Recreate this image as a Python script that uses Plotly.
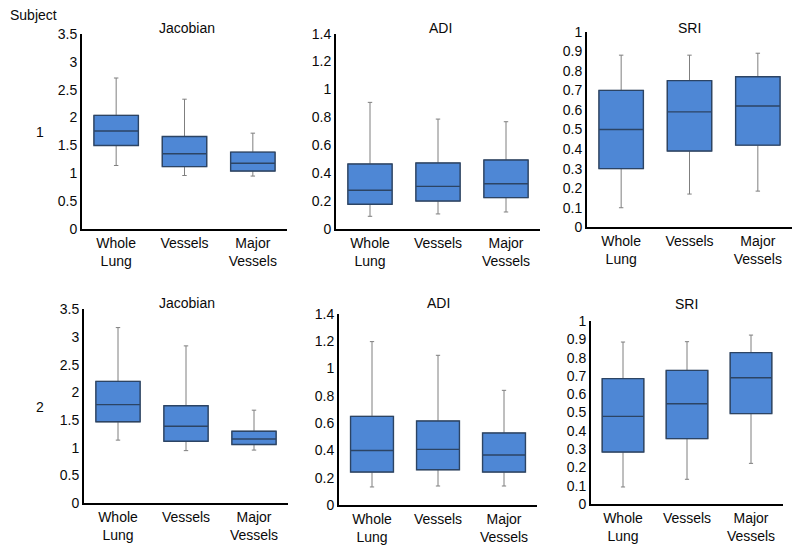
import plotly.graph_objects as go

categories = ["Whole<br>Lung", "Vessels", "Major<br>Vessels"]
subjects = ["1", "2"]
metrics = ["Jacobian", "ADI", "SRI"]

# Subject 1
jac1_low = [1.14, 0.96, 0.95]
jac1_q1 = [1.50, 1.12, 1.04]
jac1_med = [1.76, 1.35, 1.18]
jac1_q3 = [2.04, 1.66, 1.38]
jac1_high = [2.71, 2.33, 1.72]

adi1_low = [0.089, 0.106, 0.12]
adi1_q1 = [0.175, 0.199, 0.223]
adi1_med = [0.276, 0.304, 0.323]
adi1_q3 = [0.464, 0.472, 0.493]
adi1_high = [0.907, 0.787, 0.768]

sri1_low = [0.10, 0.17, 0.185]
sri1_q1 = [0.30, 0.39, 0.42]
sri1_med = [0.50, 0.59, 0.62]
sri1_q3 = [0.70, 0.75, 0.77]
sri1_high = [0.88, 0.88, 0.89]

# Subject 2
jac2_low = [1.14, 0.95, 0.96]
jac2_q1 = [1.47, 1.12, 1.06]
jac2_med = [1.78, 1.39, 1.16]
jac2_q3 = [2.20, 1.76, 1.30]
jac2_high = [3.17, 2.84, 1.68]

adi2_low = [0.134, 0.141, 0.141]
adi2_q1 = [0.243, 0.26, 0.243]
adi2_med = [0.40, 0.409, 0.368]
adi2_q3 = [0.65, 0.616, 0.528]
adi2_high = [1.196, 1.096, 0.84]

sri2_low = [0.093, 0.135, 0.222]
sri2_q1 = [0.284, 0.357, 0.494]
sri2_med = [0.479, 0.548, 0.69]
sri2_q3 = [0.685, 0.73, 0.827]
sri2_high = [0.885, 0.887, 0.923]

y_ranges = [[0, 3.5], [0, 1.4], [0, 1.0]]
y_dticks = [0.5, 0.2, 0.1]

panels = [
    (jac1_low, jac1_q1, jac1_med, jac1_q3, jac1_high),
    (adi1_low, adi1_q1, adi1_med, adi1_q3, adi1_high),
    (sri1_low, sri1_q1, sri1_med, sri1_q3, sri1_high),
    (jac2_low, jac2_q1, jac2_med, jac2_q3, jac2_high),
    (adi2_low, adi2_q1, adi2_med, adi2_q3, adi2_high),
    (sri2_low, sri2_q1, sri2_med, sri2_q3, sri2_high),
]

# pixel boxes of plot areas: (x0, x1, y0_top, y1_bottom)
W, H = 800, 553
pix = [
    (82, 287, 34, 229),
    (336, 540, 33.7, 228.7),
    (587, 792, 31.7, 227.3),
    (84, 288, 309.3, 503.3),
    (339, 537, 313.7, 505.3),
    (591, 783, 321, 504),
]
title_pos = [(186.7, 28), (440, 28.3), (689, 28.3), (186.7, 303), (438, 303), (686.7, 304)]

FILL = "#4E87D5"
EDGE = "#2C4464"
WHISK = "#7F7F7F"
FONT = "Liberation Sans, Arial, sans-serif"
TXT = "#0a0a0a"

fig = go.Figure()
layout = {}
annotations = []
for i, (low, q1, med, q3, high) in enumerate(panels):
    n = "" if i == 0 else str(i + 1)
    xa, ya = "x" + n, "y" + n
    # whiskers
    fig.add_trace(go.Box(
        x=categories, q1=q1, median=med, q3=q3, lowerfence=low, upperfence=high,
        xaxis=xa, yaxis=ya, fillcolor=FILL, line=dict(color=WHISK, width=1),
        whiskerwidth=0.1, boxpoints=False, showlegend=False, hoverinfo="skip"))
    # box body
    fig.add_trace(go.Box(
        x=categories, q1=q1, median=med, q3=q3, lowerfence=q1, upperfence=q3,
        xaxis=xa, yaxis=ya, fillcolor=FILL, line=dict(color=EDGE, width=1.4),
        whiskerwidth=0, boxpoints=False, showlegend=False, hoverinfo="skip"))
    x0, x1, yt, yb = pix[i]
    r = i % 3
    layout["xaxis" + n] = dict(
        domain=[x0 / W, x1 / W], anchor=ya, type="category", automargin=False,
        categoryorder="array", categoryarray=categories, range=[-0.5, 2.5],
        showline=True, linecolor="black", linewidth=2, showgrid=False,
        zeroline=False, ticks="", tickfont=dict(size=14, color=TXT))
    layout["yaxis" + n] = dict(
        domain=[(H - yb) / H, (H - yt) / H], anchor=xa, range=y_ranges[r], automargin=False,
        dtick=y_dticks[r], tick0=0, showline=True, linecolor="black", linewidth=2,
        showgrid=False, zeroline=False, ticks="", tickfont=dict(size=14, color=TXT))
    tx, ty = title_pos[i]
    annotations.append(dict(text=metrics[r], x=tx / W, y=(H - ty) / H, xref="paper", yref="paper",
                            showarrow=False, xanchor="center", yanchor="middle",
                            font=dict(size=14, color=TXT)))

annotations.append(dict(text="Subject", x=8 / W, y=(H - 15) / H, xref="paper", yref="paper",
                        showarrow=False, xanchor="left", yanchor="middle", font=dict(size=14, color=TXT)))
annotations.append(dict(text=subjects[0], x=40 / W, y=(H - 132) / H, xref="paper", yref="paper",
                        showarrow=False, xanchor="center", yanchor="middle", font=dict(size=14, color=TXT)))
annotations.append(dict(text=subjects[1], x=40 / W, y=(H - 407) / H, xref="paper", yref="paper",
                        showarrow=False, xanchor="center", yanchor="middle", font=dict(size=14, color=TXT)))

fig.update_layout(
    template="none",
    width=W, height=H, margin=dict(l=0, r=0, t=0, b=0, pad=0),
    paper_bgcolor="white", plot_bgcolor="white",
    boxmode="overlay", boxgap=0.35, boxgroupgap=0,
    font=dict(family=FONT, size=14, color=TXT),
    annotations=annotations, **layout)

fig.write_html("out.html", config={"displayModeBar": False},
               post_script="document.body.style.margin='0';document.body.style.overflow='hidden';")
